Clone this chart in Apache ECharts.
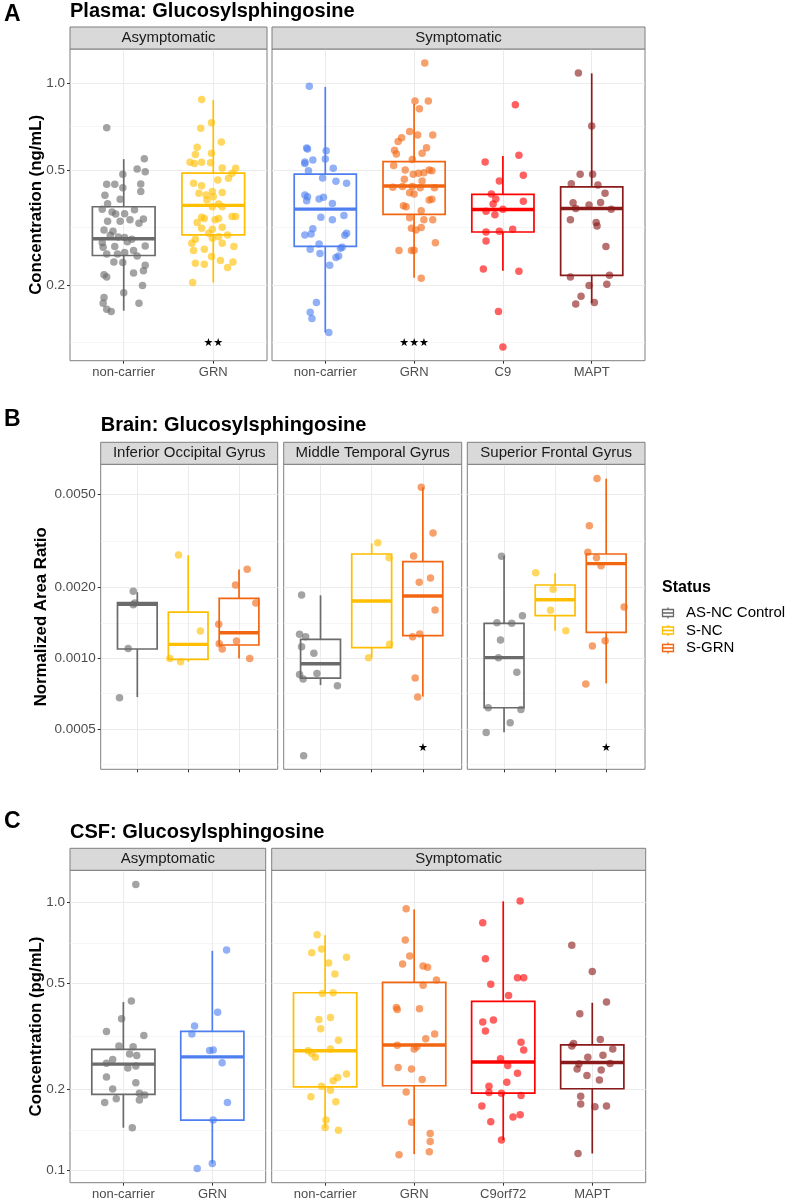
<!DOCTYPE html>
<html>
<head>
<meta charset="utf-8">
<script src="https://cdn.jsdelivr.net/npm/echarts@6/dist/echarts.min.js"></script>
<style>
  html, body { margin: 0; padding: 0; background: #fff; }
  #chart { width: 792px; height: 1200px; }
</style>
</head>
<body>
<div id="chart"></div>
<script>
// ---------- colours ----------
const colGray = '#6b6b6b';
const colGold = '#FFBF00';
const colBlue = '#4D7FF0';
const colOrange = '#F26611';
const colRed = '#FF0000';
const colDarkRed = '#8B1A1A';

// ---------- A: plasma ----------
const plasmaFacets = ['Asymptomatic', 'Symptomatic'];
const plasmaCats = [['non-carrier', 'GRN'], ['non-carrier', 'GRN', 'C9', 'MAPT']];
const plasmaTicks = [0.2, 0.5, 1.0];
const plasmaMinor = [0.1265, 0.3162, 0.7071];
const plasmaLimits = [0.1094, 1.311];

const plasmaAsymNC = [0.70, 0.547, 0.504, 0.493, 0.483, 0.446, 0.446, 0.447, 0.434, 0.421, 0.409, 0.396, 0.382, 0.366, 0.358, 0.364, 0.353, 0.352, 0.332, 0.332, 0.336, 0.338, 0.327, 0.310, 0.307, 0.297, 0.293, 0.292, 0.288, 0.282, 0.280, 0.273, 0.272, 0.270, 0.256, 0.256, 0.259, 0.263, 0.252, 0.240, 0.239, 0.234, 0.217, 0.220, 0.224, 0.213, 0.199, 0.188, 0.181, 0.173, 0.173, 0.165, 0.162];
const plasmaAsymNCJitter = [-0.19, 0.23, 0.15, 0.24, -0.01, -0.19, -0.10, 0.19, -0.01, 0.19, -0.21, -0.04, -0.18, -0.24, -0.13, 0.12, 0.01, -0.09, -0.18, -0.04, 0.07, 0.22, 0.17, -0.22, -0.12, -0.15, -0.06, 0.01, 0.09, 0.04, -0.24, 0.24, -0.10, -0.23, -0.19, -0.07, 0.01, 0.11, 0.15, -0.11, -0.01, 0.24, -0.22, 0.11, 0.22, -0.19, 0.21, 0.00, -0.22, 0.17, -0.23, -0.19, -0.14];
const plasmaAsymNCBox = [0.163, 0.253, 0.289, 0.373, 0.545];

const plasmaAsymGRN = [0.876, 0.729, 0.697, 0.625, 0.599, 0.571, 0.566, 0.532, 0.530, 0.527, 0.532, 0.508, 0.507, 0.487, 0.468, 0.450, 0.441, 0.462, 0.421, 0.418, 0.415, 0.410, 0.404, 0.394, 0.381, 0.373, 0.373, 0.343, 0.340, 0.336, 0.329, 0.340, 0.345, 0.345, 0.314, 0.312, 0.317, 0.294, 0.290, 0.288, 0.298, 0.302, 0.279, 0.279, 0.263, 0.266, 0.272, 0.251, 0.238, 0.236, 0.243, 0.240, 0.230, 0.204];
const plasmaAsymGRNJitter = [-0.13, -0.02, -0.14, 0.09, -0.18, -0.02, -0.20, -0.26, -0.03, -0.21, -0.13, 0.10, 0.25, 0.21, 0.17, -0.22, -0.13, 0.05, -0.01, 0.10, -0.16, -0.08, 0.00, -0.07, 0.06, -0.01, 0.10, -0.13, -0.10, 0.02, -0.18, 0.06, 0.21, 0.25, -0.13, -0.01, 0.10, 0.06, -0.01, -0.20, 0.16, -0.05, 0.10, -0.24, -0.22, -0.10, 0.23, -0.02, -0.20, -0.10, 0.08, 0.22, 0.16, -0.23];
const plasmaAsymGRNBox = [0.204, 0.298, 0.377, 0.488, 0.873];

const plasmaSymNC = [0.974, 0.596, 0.591, 0.533, 0.527, 0.541, 0.583, 0.546, 0.497, 0.507, 0.469, 0.457, 0.450, 0.410, 0.404, 0.391, 0.397, 0.402, 0.383, 0.348, 0.343, 0.336, 0.313, 0.298, 0.300, 0.302, 0.297, 0.277, 0.266, 0.257, 0.268, 0.270, 0.252, 0.249, 0.234, 0.174, 0.161, 0.153, 0.137];
const plasmaSymNCJitter = [-0.18, -0.21, -0.20, -0.23, -0.23, -0.14, 0.01, 0.00, -0.19, 0.09, -0.03, 0.12, 0.24, -0.23, -0.20, -0.21, -0.07, -0.02, 0.08, 0.21, -0.05, 0.08, -0.14, -0.23, -0.16, 0.24, 0.22, -0.07, -0.17, -0.06, 0.17, 0.19, 0.15, 0.12, 0.05, -0.10, -0.17, -0.15, 0.04];
const plasmaSymNCBox = [0.137, 0.272, 0.366, 0.484, 0.969];

const plasmaSymGRN = [1.173, 0.866, 0.866, 0.815, 0.679, 0.661, 0.647, 0.661, 0.627, 0.597, 0.585, 0.571, 0.568, 0.544, 0.518, 0.500, 0.483, 0.487, 0.500, 0.497, 0.489, 0.464, 0.458, 0.436, 0.438, 0.438, 0.434, 0.434, 0.417, 0.413, 0.394, 0.396, 0.376, 0.373, 0.361, 0.342, 0.336, 0.336, 0.314, 0.316, 0.310, 0.280, 0.263, 0.263, 0.264, 0.211];
const plasmaSymGRNJitter = [0.12, 0.01, 0.16, 0.06, -0.05, 0.04, -0.14, 0.21, -0.18, 0.14, -0.22, 0.09, -0.20, -0.02, -0.23, -0.10, -0.01, 0.05, 0.17, 0.20, 0.11, -0.11, 0.09, -0.24, -0.13, -0.02, 0.07, 0.23, -0.05, 0.00, 0.17, 0.20, -0.12, -0.09, 0.08, -0.05, 0.11, 0.21, -0.03, 0.08, 0.02, 0.24, -0.17, -0.03, 0.00, 0.08];
const plasmaSymGRNBox = [0.212, 0.351, 0.440, 0.534, 0.846];

const plasmaSymC9 = [0.841, 0.562, 0.533, 0.458, 0.479, 0.413, 0.397, 0.381, 0.390, 0.360, 0.350, 0.366, 0.305, 0.307, 0.312, 0.284, 0.227, 0.223, 0.162, 0.122];
const plasmaSymC9Jitter = [0.14, 0.18, -0.20, -0.04, 0.23, -0.13, -0.08, -0.11, 0.23, -0.19, -0.09, 0.00, -0.19, -0.04, 0.11, -0.19, -0.22, 0.18, -0.05, 0.00];
const plasmaSymC9Box = [0.224, 0.305, 0.365, 0.412, 0.559];

const plasmaSymMAPT = [1.083, 0.710, 0.483, 0.483, 0.448, 0.444, 0.415, 0.385, 0.378, 0.386, 0.368, 0.366, 0.336, 0.329, 0.320, 0.272, 0.213, 0.216, 0.199, 0.201, 0.183, 0.172, 0.174];
const plasmaSymMAPTJitter = [-0.15, 0.00, -0.13, 0.01, -0.23, 0.07, 0.15, -0.21, -0.03, 0.10, -0.18, 0.22, -0.24, 0.05, 0.06, 0.16, -0.24, 0.20, -0.03, 0.17, -0.12, -0.18, 0.03];
const plasmaSymMAPTBox = [0.173, 0.216, 0.368, 0.437, 1.080];

const plasmaSig = ['', '★★', '', '★★★', '', ''];

// ---------- B: brain ----------
const brainFacets = ['Inferior Occipital Gyrus', 'Middle Temporal Gyrus', 'Superior Frontal Gyrus'];
const brainCats = [['AS-NC Control', 'S-NC', 'S-GRN'], ['AS-NC Control', 'S-NC', 'S-GRN'], ['AS-NC Control', 'S-NC', 'S-GRN']];
const brainTicks = [0.0005, 0.0010, 0.0020, 0.0050];
const brainMinor = [0.000354, 0.000707, 0.001414, 0.003162];
const brainLimits = [0.000337, 0.006688];

const iogControl = [0.00193, 0.00172, 0.00169, 0.00110, 0.00068];
const iogControlJitter = [-0.08, -0.05, -0.08, -0.18, -0.35];
const iogControlBox = [0.000684, 0.001095, 0.001696, 0.001724, 0.001909];
const iogSNC = [0.00275, 0.001306, 0.000999, 0.000967];
const iogSNCJitter = [-0.19, 0.24, -0.36, -0.15];
const iogSNCBox = [0.000967, 0.000990, 0.001146, 0.001573, 0.002742];
const iogSGRN = [0.002392, 0.002050, 0.001718, 0.001394, 0.001154, 0.001095, 0.001185, 0.000999];
const iogSGRNJitter = [0.16, -0.07, 0.33, -0.40, -0.39, -0.33, -0.05, 0.21];
const iogSGRNBox = [0.000999, 0.001139, 0.001285, 0.001799, 0.002389];

const mtgControl = [0.00186, 0.001264, 0.001236, 0.001120, 0.001050, 0.000854, 0.000862, 0.000816, 0.000764, 0.000385];
const mtgControlJitter = [-0.37, -0.41, -0.29, -0.37, -0.13, -0.41, -0.07, -0.34, 0.33, -0.33];
const mtgControlBox = [0.000769, 0.000824, 0.000948, 0.001204, 0.001853];
const mtgSNC = [0.003104, 0.002680, 0.001146, 0.001006];
const mtgSNCJitter = [0.12, 0.34, 0.35, -0.06];
const mtgSNCBox = [0.001006, 0.001109, 0.001752, 0.002778, 0.003083];
const mtgSGRN = [0.00534, 0.003413, 0.002723, 0.002196, 0.002104, 0.001604, 0.001269, 0.001236, 0.000824, 0.000684];
const mtgSGRNJitter = [-0.03, 0.20, -0.18, 0.15, -0.07, 0.24, -0.06, -0.20, -0.15, -0.10];
const mtgSGRNBox = [0.000687, 0.001248, 0.001841, 0.002576, 0.005339];

const sfgControl = [0.00272, 0.001518, 0.001418, 0.001408, 0.001196, 0.001006, 0.000871, 0.000616, 0.000606, 0.000532, 0.000483];
const sfgControlJitter = [-0.05, 0.36, -0.14, 0.15, -0.07, -0.11, 0.25, -0.31, 0.33, 0.12, -0.35];
const sfgControlBox = [0.000484, 0.000616, 0.001006, 0.001408, 0.002723];
const sfgSNC = [0.002313, 0.001965, 0.001600, 0.001310];
const sfgSNCJitter = [-0.38, -0.04, -0.09, 0.21];
const sfgSNCBox = [0.001310, 0.001518, 0.001775, 0.002050, 0.002298];
const sfgSGRN = [0.00582, 0.003666, 0.002823, 0.002680, 0.002478, 0.001652, 0.001188, 0.001128, 0.000777];
const sfgSGRNJitter = [-0.18, -0.33, -0.36, -0.19, -0.10, 0.35, -0.02, -0.27, -0.40];
const sfgSGRNBox = [0.000782, 0.001289, 0.002527, 0.002778, 0.005810];

const brainSig = ['', '', '', '', '', '★', '', '', '★'];
const statusNames = ['AS-NC Control', 'S-NC', 'S-GRN'];
const statusColors = [colGray, colGold, colOrange];

// ---------- C: CSF ----------
const csfFacets = ['Asymptomatic', 'Symptomatic'];
const csfCats = [['non-carrier', 'GRN'], ['non-carrier', 'GRN', 'C9orf72', 'MAPT']];
const csfTicks = [0.1, 0.2, 0.5, 1.0];
const csfMinor = [0.1414, 0.3162, 0.7071];
const csfLimits = [0.0897, 1.322];

const csfAsymNC = [1.171, 0.429, 0.368, 0.330, 0.319, 0.291, 0.289, 0.272, 0.268, 0.259, 0.251, 0.245, 0.241, 0.223, 0.212, 0.201, 0.194, 0.191, 0.185, 0.183, 0.179, 0.144];
const csfAsymNCJitter = [0.14, 0.09, -0.02, -0.19, 0.23, -0.05, 0.11, 0.07, 0.15, -0.12, -0.19, 0.14, 0.05, -0.19, 0.14, -0.12, 0.18, 0.24, -0.08, 0.18, -0.21, 0.10];
const csfAsymNCBox = [0.144, 0.1919, 0.249, 0.2827, 0.425];

const csfAsymGRN = [0.665, 0.389, 0.346, 0.323, 0.280, 0.281, 0.252, 0.179, 0.1538, 0.1059, 0.1014];
const csfAsymGRNJitter = [0.16, 0.06, -0.20, -0.23, -0.03, 0.01, 0.11, 0.17, 0.01, 0.00, -0.17];
const csfAsymGRNBox = [0.1059, 0.1538, 0.265, 0.330, 0.661];

const csfSymNC = [0.759, 0.650, 0.671, 0.625, 0.595, 0.541, 0.458, 0.461, 0.366, 0.372, 0.338, 0.306, 0.2795, 0.273, 0.264, 0.284, 0.2286, 0.222, 0.216, 0.206, 0.199, 0.180, 0.188, 0.1538, 0.1444, 0.141];
const csfSymNCJitter = [-0.09, -0.15, -0.04, 0.24, 0.04, 0.11, -0.03, 0.09, -0.07, 0.06, -0.05, 0.15, -0.19, -0.15, -0.11, 0.06, 0.24, 0.14, 0.09, -0.04, 0.06, 0.12, -0.16, 0.01, 0.00, 0.15];
const csfSymNCBox = [0.144, 0.2049, 0.2795, 0.4606, 0.755];

const csfSymGRN = [0.950, 0.725, 0.632, 0.590, 0.580, 0.573, 0.514, 0.491, 0.406, 0.399, 0.401, 0.323, 0.310, 0.293, 0.289, 0.284, 0.242, 0.239, 0.218, 0.196, 0.151, 0.137, 0.128, 0.117, 0.114];
const csfSymGRNJitter = [-0.09, -0.10, -0.05, -0.13, 0.10, 0.15, 0.25, 0.10, -0.20, -0.19, 0.06, 0.23, 0.13, -0.19, 0.03, 0.00, -0.18, -0.03, 0.09, -0.09, -0.03, 0.18, 0.18, 0.17, -0.17];
const csfSymGRNBox = [0.1148, 0.2067, 0.2935, 0.5035, 0.944];

const csfSymC9 = [1.014, 0.842, 0.617, 0.524, 0.524, 0.496, 0.450, 0.358, 0.364, 0.331, 0.301, 0.281, 0.261, 0.246, 0.230, 0.213, 0.206, 0.195, 0.194, 0.190, 0.1735, 0.161, 0.158, 0.1516, 0.1295];
const csfSymC9Jitter = [0.19, -0.23, -0.20, 0.16, 0.23, -0.14, 0.06, -0.23, -0.11, -0.20, 0.20, 0.23, -0.03, 0.05, 0.16, 0.04, -0.16, -0.16, -0.02, 0.20, -0.24, 0.19, 0.11, -0.14, -0.02];
const csfSymC9Box = [0.1295, 0.194, 0.2535, 0.4275, 1.012];

const csfSymMAPT = [0.694, 0.5535, 0.425, 0.3845, 0.308, 0.2977, 0.291, 0.284, 0.269, 0.264, 0.2506, 0.2494, 0.239, 0.2366, 0.226, 0.217, 0.189, 0.1765, 0.1725, 0.1735, 0.1154];
const csfSymMAPTJitter = [-0.23, 0.00, 0.16, -0.14, 0.09, -0.21, -0.23, 0.23, 0.12, -0.05, 0.20, -0.15, -0.17, 0.10, -0.06, 0.08, -0.13, -0.13, 0.03, 0.16, -0.16];
const csfSymMAPTBox = [0.1154, 0.2015, 0.2527, 0.2942, 0.4225];

// ---------- group tables ----------
function grp(facet, cat, color, values, jitter, box, sig) {
  return { facet, cat, color, values, jitter, box, sig: sig || '' };
}

const plasmaGroups = [
  grp(0, 0, colGray, plasmaAsymNC, plasmaAsymNCJitter, plasmaAsymNCBox, plasmaSig[0]),
  grp(0, 1, colGold, plasmaAsymGRN, plasmaAsymGRNJitter, plasmaAsymGRNBox, plasmaSig[1]),
  grp(1, 0, colBlue, plasmaSymNC, plasmaSymNCJitter, plasmaSymNCBox, plasmaSig[2]),
  grp(1, 1, colOrange, plasmaSymGRN, plasmaSymGRNJitter, plasmaSymGRNBox, plasmaSig[3]),
  grp(1, 2, colRed, plasmaSymC9, plasmaSymC9Jitter, plasmaSymC9Box, plasmaSig[4]),
  grp(1, 3, colDarkRed, plasmaSymMAPT, plasmaSymMAPTJitter, plasmaSymMAPTBox, plasmaSig[5])
];

const brainGroups = [
  grp(0, 0, statusColors[0], iogControl, iogControlJitter, iogControlBox, brainSig[0]),
  grp(0, 1, statusColors[1], iogSNC, iogSNCJitter, iogSNCBox, brainSig[1]),
  grp(0, 2, statusColors[2], iogSGRN, iogSGRNJitter, iogSGRNBox, brainSig[2]),
  grp(1, 0, statusColors[0], mtgControl, mtgControlJitter, mtgControlBox, brainSig[3]),
  grp(1, 1, statusColors[1], mtgSNC, mtgSNCJitter, mtgSNCBox, brainSig[4]),
  grp(1, 2, statusColors[2], mtgSGRN, mtgSGRNJitter, mtgSGRNBox, brainSig[5]),
  grp(2, 0, statusColors[0], sfgControl, sfgControlJitter, sfgControlBox, brainSig[6]),
  grp(2, 1, statusColors[1], sfgSNC, sfgSNCJitter, sfgSNCBox, brainSig[7]),
  grp(2, 2, statusColors[2], sfgSGRN, sfgSGRNJitter, sfgSGRNBox, brainSig[8])
];

const csfGroups = [
  grp(0, 0, colGray, csfAsymNC, csfAsymNCJitter, csfAsymNCBox),
  grp(0, 1, colBlue, csfAsymGRN, csfAsymGRNJitter, csfAsymGRNBox),
  grp(1, 0, colGold, csfSymNC, csfSymNCJitter, csfSymNCBox),
  grp(1, 1, colOrange, csfSymGRN, csfSymGRNJitter, csfSymGRNBox),
  grp(1, 2, colRed, csfSymC9, csfSymC9Jitter, csfSymC9Box),
  grp(1, 3, colDarkRed, csfSymMAPT, csfSymMAPTJitter, csfSymMAPTBox)
];

// ---------- layout ----------
const FONT = '"Liberation Sans", Arial, Helvetica, sans-serif';
const L = v => Math.log10(v);

const panels = [
  { facets: plasmaFacets, cats: plasmaCats, groups: plasmaGroups, ticks: plasmaTicks, minor: plasmaMinor, limits: plasmaLimits,
    top: 49, height: 311.7, lefts: [70, 272], widths: [197, 373], padL: 0.6, padR: 0.6,
    dec: 1, yName: 'Concentration (ng/mL)', nameGap: 25.5, boxW: 0.70, showX: true, sigOffset: 18 },
  { facets: brainFacets, cats: brainCats, groups: brainGroups, ticks: brainTicks, minor: brainMinor, limits: brainLimits,
    top: 464.3, height: 305, lefts: [100.7, 283.7, 467.3], widths: [177, 178, 177.7], padL: 0.72, padR: 0.76,
    dec: 4, yName: 'Normalized Area Ratio', nameGap: 51, boxW: 0.78, showX: false, sigOffset: 21 },
  { facets: csfFacets, cats: csfCats, groups: csfGroups, ticks: csfTicks, minor: csfMinor, limits: csfLimits,
    top: 870.3, height: 312.4, lefts: [70, 271.7], widths: [195.7, 374], padL: 0.6, padR: 0.6,
    dec: 1, yName: 'Concentration (pg/mL)', nameGap: 25.5, boxW: 0.71, showX: true, sigOffset: 18 }
];

const grids = [], xAxes = [], yAxes = [], series = [], graphics = [];

function addPanel(p) {
  p.facets.forEach((fname, fi) => {
    const cats = p.cats[fi];
    const left = p.lefts[fi], width = p.widths[fi];
    const first = fi === 0;
    const catIdx = cats.map((c, i) => i);
    const yMin = L(p.limits[0]), yMax = L(p.limits[1]);

    const gi = grids.length;
    grids.push({ left: left, top: p.top, width: width, height: p.height, show: true,
      backgroundColor: '#fff', borderColor: '#7f7f7f', borderWidth: 1, outerBoundsMode: 'none' });

    const xi = xAxes.length;
    xAxes.push({
      type: 'value', gridIndex: gi, position: 'bottom', min: -p.padL, max: cats.length - 1 + p.padR,
      axisLine: { show: false, onZero: false },
      axisTick: { show: true, customValues: catIdx, length: 3, lineStyle: { color: '#333', width: 1 } },
      axisLabel: { show: p.showX, customValues: catIdx, formatter: v => cats[Math.round(v)] || '',
        color: '#4d4d4d', fontSize: 13, margin: 5, fontFamily: FONT },
      splitLine: { show: true, lineStyle: { color: '#ebebeb', width: 1 } }
    });

    const yi = yAxes.length;
    yAxes.push({
      type: 'value', gridIndex: gi, position: 'left', min: yMin, max: yMax,
      axisLine: { show: false, onZero: false },
      axisTick: { show: first, customValues: p.ticks.map(L), length: 3, lineStyle: { color: '#333', width: 1 } },
      axisLabel: { show: first, customValues: p.ticks.map(L), formatter: v => Math.pow(10, v).toFixed(p.dec),
        color: '#4d4d4d', fontSize: 13.5, margin: 5, fontFamily: FONT },
      splitLine: { show: true, lineStyle: { color: '#ebebeb', width: 1 } },
      name: first ? p.yName : '', nameLocation: 'middle', nameGap: p.nameGap, nameMoveOverlap: false,
      nameTextStyle: { fontWeight: 'bold', fontSize: 16.8, color: '#000', fontFamily: FONT }
    });
    // minor grid lines
    yAxes.push({
      type: 'value', gridIndex: gi, position: 'left', min: yMin, max: yMax,
      axisLine: { show: false, onZero: false },
      axisTick: { show: false, customValues: p.minor.map(L) },
      axisLabel: { show: false, customValues: p.minor.map(L) },
      splitLine: { show: true, lineStyle: { color: '#f2f2f2', width: 0.7 } }
    });

    const groups = p.groups.filter(g => g.facet === fi);

    // boxes
    series.push({
      type: 'custom', xAxisIndex: xi, yAxisIndex: yi, z: 2, silent: true,
      data: groups.map(g => [g.cat].concat(g.box.map(L))),
      renderItem: (params, api) => {
        const g = groups[params.dataIndex];
        const x = api.value(0);
        const pts = [1, 2, 3, 4, 5].map(k => api.coord([x, api.value(k)]));
        const cx = pts[0][0];
        const hw = api.size([p.boxW, 0])[0] / 2;
        const st = { stroke: g.color, lineWidth: 1.7, fill: null };
        return {
          type: 'group',
          children: [
            { type: 'line', shape: { x1: cx, y1: pts[0][1], x2: cx, y2: pts[1][1] }, style: st },
            { type: 'line', shape: { x1: cx, y1: pts[3][1], x2: cx, y2: pts[4][1] }, style: st },
            { type: 'rect', shape: { x: cx - hw, y: pts[3][1], width: 2 * hw, height: pts[1][1] - pts[3][1] },
              style: { stroke: g.color, lineWidth: 1.7, fill: 'rgba(255,255,255,0)' } },
            { type: 'line', shape: { x1: cx - hw, y1: pts[2][1], x2: cx + hw, y2: pts[2][1] },
              style: { stroke: g.color, lineWidth: 3.4 } }
          ]
        };
      }
    });

    // jittered points
    groups.forEach(g => {
      series.push({
        type: 'scatter', xAxisIndex: xi, yAxisIndex: yi, z: 3, silent: true,
        symbol: 'circle', symbolSize: 7.5,
        itemStyle: { color: g.color, opacity: 0.62 },
        data: g.values.map((v, i) => [g.cat + (g.jitter[i] || 0), L(v)])
      });
    });

    // significance stars
    const sigs = groups.filter(g => g.sig);
    if (sigs.length) {
      series.push({
        type: 'custom', xAxisIndex: xi, yAxisIndex: yi, z: 4, silent: true,
        data: sigs.map(g => [g.cat, yMin]),
        renderItem: (params, api) => {
          const c = api.coord([api.value(0), api.value(1)]);
          return { type: 'text', x: c[0], y: c[1] - p.sigOffset,
            style: { text: sigs[params.dataIndex].sig, fill: '#000', fontSize: 11,
              fontFamily: '"DejaVu Sans", sans-serif', align: 'center', verticalAlign: 'middle' } };
        }
      });
    }

    // facet strip
    graphics.push({ type: 'rect', shape: { x: left, y: p.top - 22, width: width, height: 22 },
      style: { fill: '#d9d9d9', stroke: '#7f7f7f', lineWidth: 1 }, z: 10 });
    graphics.push({ type: 'text', x: left + width / 2, y: p.top - 11,
      style: { text: fname, fill: '#1a1a1a', fontSize: 15, fontFamily: FONT, align: 'center', verticalAlign: 'middle' }, z: 11 });
  });
}

panels.forEach(addPanel);

// titles and panel letters
const headings = [
  { letter: 'A', ly: 15, title: 'Plasma: Glucosylsphingosine', tx: 70, ty: 11.5 },
  { letter: 'B', ly: 420, title: 'Brain: Glucosylsphingosine', tx: 100.7, ty: 425 },
  { letter: 'C', ly: 822, title: 'CSF: Glucosylsphingosine', tx: 70, ty: 832.5 }
];
headings.forEach(h => {
  graphics.push({ type: 'text', x: 4, y: h.ly,
    style: { text: h.letter, fill: '#000', fontSize: 23, fontWeight: 'bold', fontFamily: FONT, verticalAlign: 'middle' } });
  graphics.push({ type: 'text', x: h.tx, y: h.ty,
    style: { text: h.title, fill: '#000', fontSize: 20, fontWeight: 'bold', fontFamily: FONT, verticalAlign: 'middle' } });
});

// legend for panel B (boxplot key glyphs)
graphics.push({ type: 'text', x: 662, y: 588,
  style: { text: 'Status', fill: '#000', fontSize: 16, fontWeight: 'bold', fontFamily: FONT, verticalAlign: 'middle' } });
statusNames.forEach((name, i) => {
  const y = 613 + i * 17.5;
  const c = statusColors[i];
  graphics.push({ type: 'line', shape: { x1: 668, y1: y - 5.5, x2: 668, y2: y + 5.5 }, style: { stroke: c, lineWidth: 1.3 } });
  graphics.push({ type: 'rect', shape: { x: 662.5, y: y - 3.5, width: 11, height: 7 }, style: { stroke: c, lineWidth: 1.3, fill: '#fff' } });
  graphics.push({ type: 'line', shape: { x1: 662.5, y1: y, x2: 673.5, y2: y }, style: { stroke: c, lineWidth: 1.6 } });
  graphics.push({ type: 'text', x: 686, y: y,
    style: { text: name, fill: '#000', fontSize: 15, fontFamily: FONT, verticalAlign: 'middle' } });
});

const chart = echarts.init(document.getElementById('chart'), null, { renderer: 'canvas' });
chart.setOption({
  backgroundColor: '#fff',
  animation: false,
  textStyle: { fontFamily: FONT },
  grid: grids,
  xAxis: xAxes,
  yAxis: yAxes,
  series: series,
  graphic: graphics
});
</script>
</body>
</html>
